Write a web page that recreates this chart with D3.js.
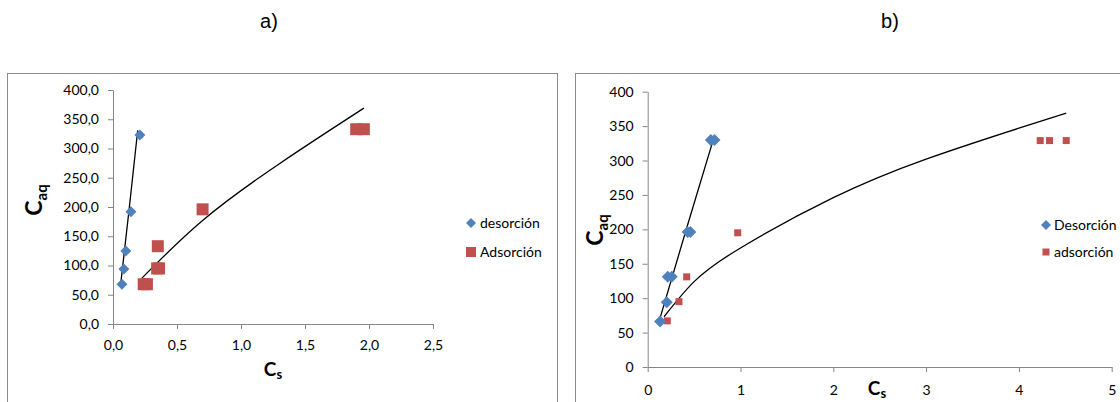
<!DOCTYPE html>
<html><head><meta charset="utf-8">
<script src="https://cdn.jsdelivr.net/npm/d3@7"></script>
<style>
body{margin:0;background:#fff;}
svg{display:block;font-family:Lato,"Open Sans",sans-serif;}
.axis path,.axis line{stroke:#868686;}
.axis text{fill:#000;font-size:14px;font-family:Lato,sans-serif;}
</style></head><body>
<svg id="c" width="1120" height="402"></svg>
<script>
// ---- data (chart a) ----
const ticksAX = [0, 0.5, 1.0, 1.5, 2.0, 2.5];
const ticksAY = [0, 50, 100, 150, 200, 250, 300, 350, 400];
const desorcionA = [[0.07,68],[0.085,94],[0.10,125],[0.14,192],[0.21,323]];
const adsorcionA = [[0.24,68],[0.265,68],[0.345,95],[0.36,95],[0.35,133],[0.70,196],[1.90,333],[1.96,333]];
const fitDesA = [[0.062,72],[0.128,200],[0.193,331]];
const fitAdsA = [[0.224,78],[0.70,177],[1.3,274],[1.96,369]];
const legendA = ["desorción","Adsorción"];
// ---- data (chart b) ----
const ticksBX = [0,1,2,3,4,5];
const ticksBY = [0,50,100,150,200,250,300,350,400];
const desorcionB = [[0.133,66],[0.205,94],[0.216,131],[0.259,131],[0.43,196],[0.46,196],[0.68,330],[0.72,330]];
const adsorcionB = [[0.211,67],[0.337,95],[0.42,131],[0.97,195],[4.23,329],[4.33,329],[4.51,329]];
const fitDesB = [[0.133,71],[0.42,202],[0.715,334]];
const fitAdsB = [[0.176,73],[0.5,124],[1.0,173],[2.0,246],[3.0,302],[4.0,347],[4.51,369]];
const legendB = ["Desorción","adsorción"];

const svg = d3.select("#c");
const blue = "#4F81BD", red = "#C0504D";
const comma = d3.formatLocale({decimal:",",thousands:".",grouping:[3],currency:["",""]});

// titles
svg.append("text").attr("x",269).attr("y",28).attr("text-anchor","middle")
  .style("font-family","'Liberation Sans',Arial,sans-serif").style("font-size","20px").text("a)");
svg.append("text").attr("x",890).attr("y",28).attr("text-anchor","middle")
  .style("font-family","'Liberation Sans',Arial,sans-serif").style("font-size","20px").text("b)");

// frames
svg.append("rect").attr("x",7.5).attr("y",73.5).attr("width",550).attr("height",360)
  .attr("fill","none").attr("stroke","#8c8c8c");
svg.append("rect").attr("x",575.5).attr("y",73.5).attr("width",560).attr("height",360)
  .attr("fill","none").attr("stroke","#8c8c8c");

function chart(cfg){
  const g = svg.append("g");
  const x = d3.scaleLinear().domain(cfg.xd).range(cfg.xr);
  const y = d3.scaleLinear().domain(cfg.yd).range(cfg.yr);
  g.append("g").attr("class","axis").attr("transform",`translate(0,${cfg.yr[0]})`)
    .call(d3.axisBottom(x).tickValues(cfg.tx).tickFormat(cfg.fx).tickSize(5).tickSizeOuter(0).tickPadding(cfg.px));
  g.append("g").attr("class","axis").attr("transform",`translate(${cfg.xr[0]},0)`)
    .call(d3.axisLeft(y).tickValues(cfg.ty).tickFormat(cfg.fy).tickSize(5).tickSizeOuter(0).tickPadding(9));
  const line = d3.line().x(d=>x(d[0])).y(d=>y(d[1])).curve(d3.curveNatural);
  [cfg.fitDes, cfg.fitAds].forEach(f=>{
    g.append("path").attr("d",line(f)).attr("fill","none").attr("stroke","#000").attr("stroke-width",1.3);
  });
  const ds = cfg.dSize, ss = cfg.sSize;
  g.selectAll(".ad").data(cfg.ads).join("rect")
    .attr("x",d=>x(d[0])-ss/2).attr("y",d=>y(d[1])-ss/2).attr("width",ss).attr("height",ss).attr("fill",red);
  g.selectAll(".de").data(cfg.des).join("path")
    .attr("d",d=>`M${x(d[0])},${y(d[1])-ds/2}l${ds/2},${ds/2}l${-ds/2},${ds/2}l${-ds/2},${-ds/2}z`)
    .attr("fill",blue);
  // axis titles
  const yt = g.append("text").attr("transform",`translate(${cfg.ytx},${cfg.yty}) rotate(-90)`)
    .attr("text-anchor","middle").style("font-weight","bold");
  yt.append("tspan").style("font-size","23px").text("C");
  yt.append("tspan").style("font-size","15px").attr("dy",5).text("aq");
  const xt = g.append("text").attr("x",cfg.xtx).attr("y",cfg.xty).attr("text-anchor","middle").style("font-weight","bold");
  xt.append("tspan").style("font-size","19px").text("C");
  xt.append("tspan").style("font-size","13px").attr("dy",3).text("s");
  // legend
  const lg = g.append("g");
  const L = cfg.leg;
  lg.append("path").attr("d",`M${L.x},${L.y1-L.d/2}l${L.d/2},${L.d/2}l${-L.d/2},${L.d/2}l${-L.d/2},${-L.d/2}z`).attr("fill",blue);
  lg.append("rect").attr("x",L.x-L.s/2).attr("y",L.y2-L.s/2).attr("width",L.s).attr("height",L.s).attr("fill",red);
  lg.append("text").attr("x",L.tx).attr("y",L.y1+5).style("font-size","14px").text(cfg.names[0]);
  lg.append("text").attr("x",L.tx).attr("y",L.y2+5).style("font-size","14px").text(cfg.names[1]);
}

chart({xd:[0,2.5], xr:[113,433], yd:[0,400], yr:[324,90],
  tx:ticksAX, ty:ticksAY, fx:comma.format(".1f"), fy:comma.format(".1f"), px:11,
  des:desorcionA, ads:adsorcionA, fitDes:fitDesA, fitAds:fitAdsA, dSize:11, sSize:12,
  ytx:42, yty:200, xtx:273, xty:376,
  leg:{x:471,y1:223,y2:252,d:10,s:10,tx:480}, names:legendA});

chart({xd:[0,5], xr:[647.7,1111.7], yd:[0,400], yr:[367,91.7],
  tx:ticksBX, ty:ticksBY, fx:d3.format("d"), fy:d3.format("d"), px:13,
  des:desorcionB, ads:adsorcionB, fitDes:fitDesB, fitAds:fitAdsB, dSize:12, sSize:7,
  ytx:603, yty:230, xtx:877, xty:395,
  leg:{x:1046,y1:225,y2:252,d:10,s:7,tx:1054}, names:legendB});
</script>
</body></html>
